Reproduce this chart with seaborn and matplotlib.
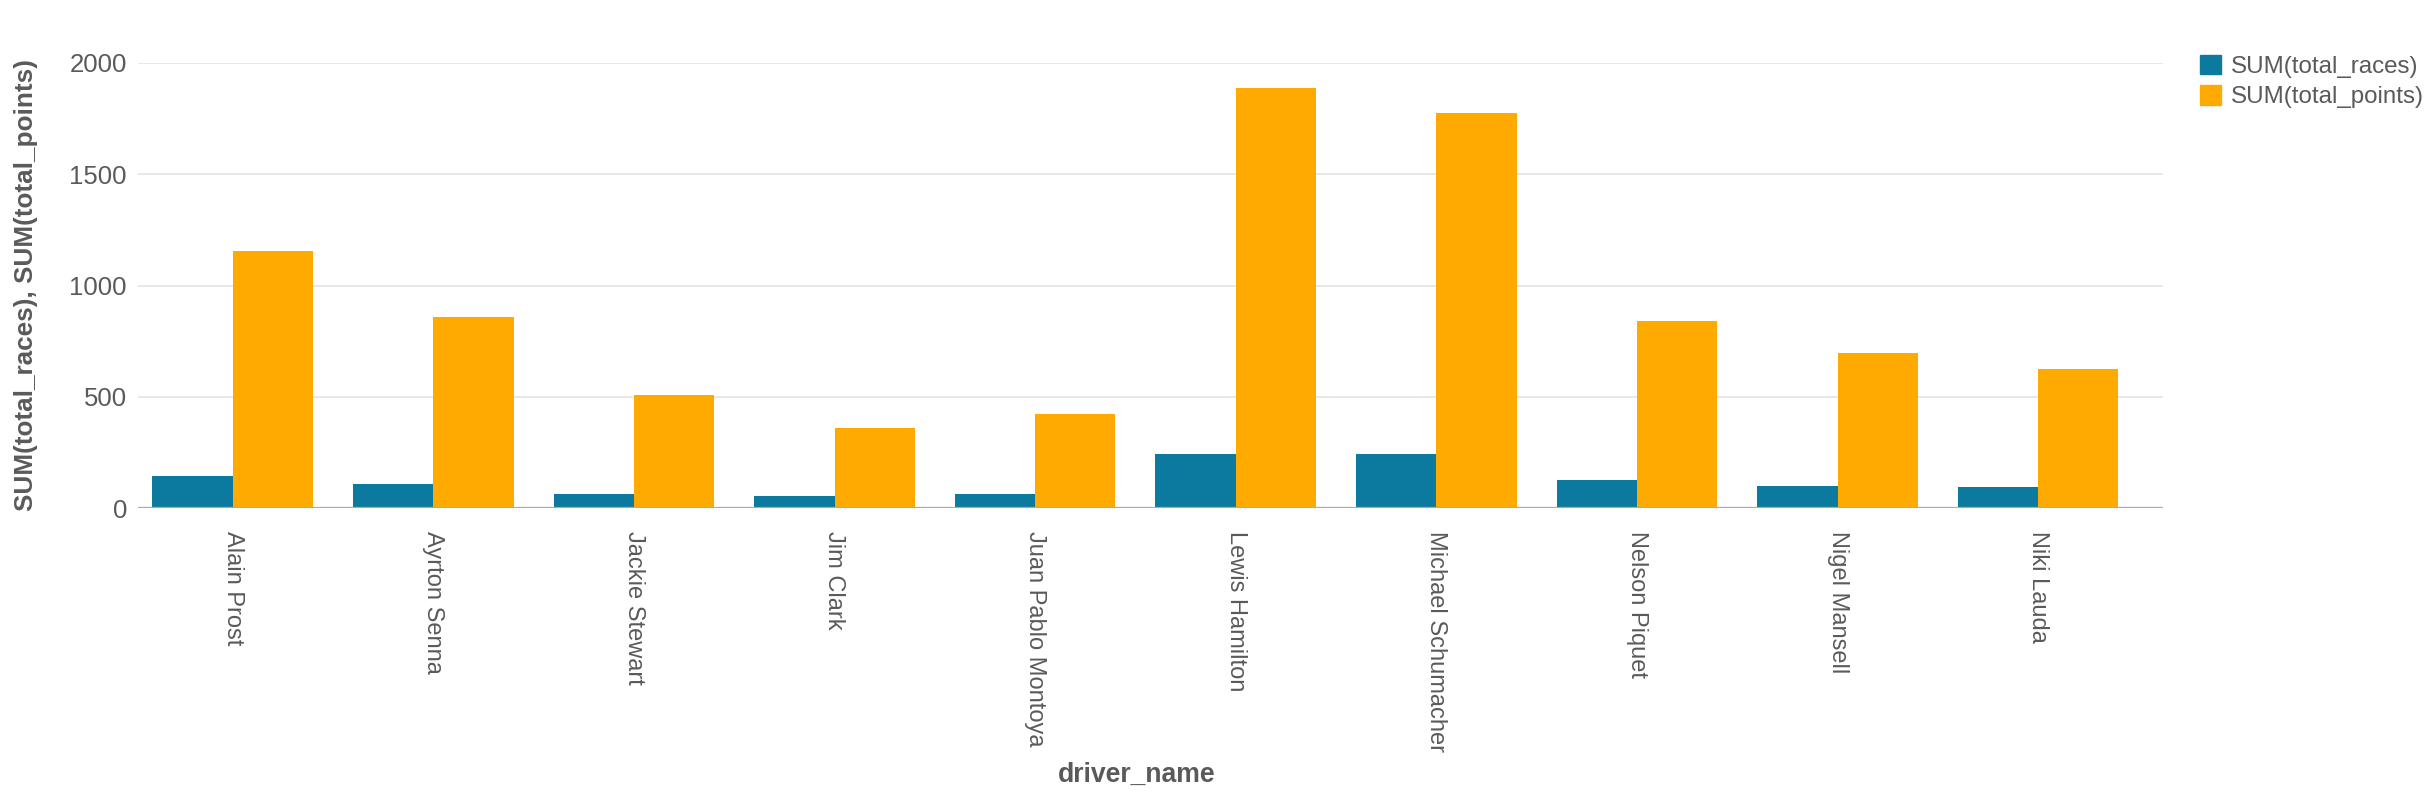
import matplotlib
matplotlib.use("Agg")
import matplotlib.pyplot as plt
import pandas as pd
import seaborn as sns

drivers = ["Alain Prost", "Ayrton Senna", "Jackie Stewart", "Jim Clark",
           "Juan Pablo Montoya", "Lewis Hamilton", "Michael Schumacher",
           "Nelson Piquet", "Nigel Mansell", "Niki Lauda"]
total_races = [146, 110, 66, 53, 64, 244, 244, 126, 101, 94]
total_points = [1154, 860, 510, 360, 423, 1885, 1775, 841, 698, 625]
series_names = ["SUM(total_races)", "SUM(total_points)"]
colors = ["#0B7A9E", "#FFAA00"]
y_ticks = [0, 500, 1000, 1500, 2000]

df = pd.DataFrame({
    "driver_name": drivers * 2,
    "series": [series_names[0]] * len(drivers) + [series_names[1]] * len(drivers),
    "value": total_races + total_points,
})

sns.set_style("white")
plt.rcParams["font.family"] = ["Liberation Sans", "DejaVu Sans"]
text_col = "#5a5a5a"

# plot area in pixels: x 138..2163, y 62.7..508.3
left, right = 138, 2163
fig = plt.figure(figsize=(24.34, 8), dpi=100)
ax = fig.add_axes([left / 2434, 1 - 508.3 / 800, (right - left) / 2434, (508.3 - 62.7) / 800])

sns.barplot(data=df, x="driver_name", y="value", hue="series",
            palette=colors, order=drivers, hue_order=series_names,
            width=0.8, linewidth=0, saturation=1, ax=ax, legend=False)

band = 200.6
ax.set_xlim((left - 232.7) / band, (right - 232.7) / band)
ax.set_ylim(0, 2000)
ax.set_yticks(y_ticks)
ax.set_yticklabels([str(t) for t in y_ticks])
ax.yaxis.grid(True, color="#e8e8e8", linewidth=1.4)
ax.set_axisbelow(True)
ax.axhline(0, color="#aaaaaa", linewidth=1.6, zorder=5)

for s in ["top", "right", "left"]:
    ax.spines[s].set_visible(False)
ax.spines["bottom"].set_position(("outward", 6))
ax.spines["bottom"].set_visible(False)

ax.tick_params(axis="y", length=0, pad=8, labelsize=18.5, labelcolor=text_col)
ax.tick_params(axis="x", length=7, width=1.1, color="#e0e0e0", pad=3,
               labelsize=17, labelcolor=text_col)
plt.setp(ax.get_xticklabels(), rotation=-90, ha="center", va="top")

ax.set_xlabel("")
ax.set_ylabel("")
fig.text(26 / 2434, 1 - 285.5 / 800, ", ".join(series_names), rotation=90,
         ha="center", va="center", fontsize=18.8, fontweight="bold", color=text_col)
fig.text(1137 / 2434, 1 - 775 / 800, "driver_name", ha="center", va="center",
         fontsize=19.2, fontweight="bold", color=text_col)

handles = [plt.Rectangle((0, 0), 1, 1, color=c) for c in colors]
fig.legend(handles, series_names, loc="upper left",
           bbox_to_anchor=(2200 / 2434, 1 - 55 / 800), frameon=False,
           fontsize=17.4, handlelength=0.85, handleheight=0.85,
           handletextpad=0.42, labelspacing=0.3, borderpad=0, borderaxespad=0,
           labelcolor=text_col)

plt.savefig("out.png", dpi=100)
